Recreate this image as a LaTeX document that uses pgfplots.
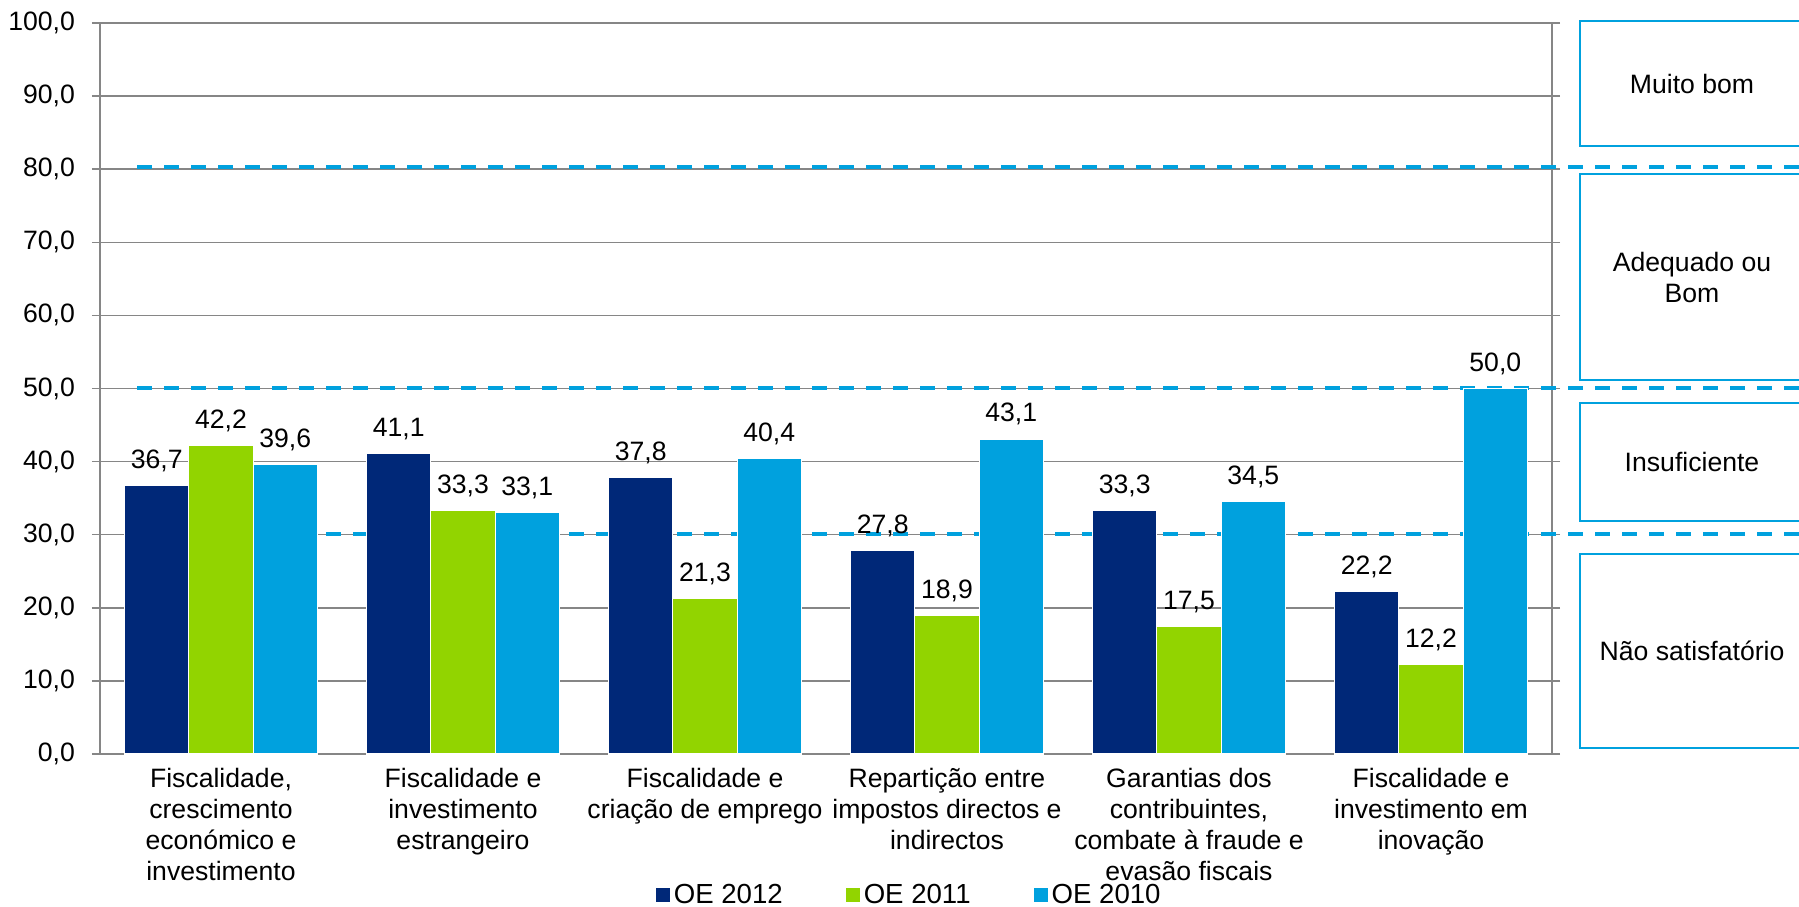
\documentclass[border=0pt]{standalone}
\usepackage{pgfplots}
\pgfplotsset{compat=1.18}
\usepackage{fontspec}
\setmainfont{Liberation Sans}
\definecolor{cdark}{RGB}{0,40,120}
\definecolor{cgreen}{RGB}{146,212,0}
\definecolor{cblue}{RGB}{0,161,222}
\definecolor{cgrid}{RGB}{134,134,134}
\newcommand{\ff}{\fontsize{13.3}{15.5}\selectfont}
\newcommand{\fl}{\fontsize{13.8}{16}\selectfont}
\begin{document}
\begin{tikzpicture}
\begin{axis}[
  at={(0,0)}, anchor=south west,
  scale only axis, width=726pt, height=365.5pt,
  xmin=-0.5, xmax=5.5, ymin=0, ymax=100,
  clip=false,
  xtick={0,1,2,3,4,5},
  xticklabels={{Fiscalidade,\\crescimento\\económico e\\investimento},
               {Fiscalidade e\\investimento\\estrangeiro},
               {Fiscalidade e\\criação de emprego},
               {Repartição entre\\impostos directos e\\indirectos},
               {Garantias dos\\contribuintes,\\combate à fraude e\\evasão fiscais},
               {Fiscalidade e\\investimento em\\inovação}},
  ytick={0,10,...,100},
  ymajorgrids, grid style={cgrid, line width=0.75pt},
  axis line style={cgrid, line width=0.75pt},
  tick align=outside, major tick length=4pt,
  ytick style={cgrid, line width=0.75pt},
  xtick style={draw=none},
  /pgf/number format/use comma,
  /pgf/number format/fixed,
  /pgf/number format/fixed zerofill,
  /pgf/number format/precision=1,
  /pgf/number format/assume math mode=true,
  yticklabel style={font=\ff, anchor=east, xshift=-5pt},
  xticklabel style={font=\ff, align=center, anchor=north, yshift=0.5pt},
  legend columns=3,
  legend style={draw=none, fill=none, font=\fl, at={(0.558,-0.1929)}, anchor=center,
    /tikz/every even column/.append style={column sep=29.5pt}},
  legend image code/.code={\fill[#1,draw=none] (0pt,-3.5pt) rectangle (7pt,3.5pt);},
  every node near coord/.append style={font=\ff, text=black, anchor=base, yshift=8.5pt},
]
\addplot[forget plot, sharp plot, cblue, line width=2pt, dash pattern=on 7.5pt off 6pt] coordinates {(-0.347,80.3) (6.6,80.3)};
\addplot[forget plot, sharp plot, cblue, line width=2pt, dash pattern=on 7.5pt off 6pt] coordinates {(-0.347,50.1) (6.6,50.1)};
\addplot[forget plot, sharp plot, cblue, line width=2pt, dash pattern=on 7.5pt off 6pt] coordinates {(-0.347,30.1) (6.6,30.1)};
\addplot[ybar, bar width=32.15pt, bar shift=-32.15pt, fill=cdark, draw=white, line width=0.6pt,
  nodes near coords, every node near coord/.append style={xshift=-32.15pt}]
  coordinates {(0,36.7) (1,41.1) (2,37.8) (3,27.8) (4,33.3) (5,22.2)};
\addlegendentry{OE 2012}
\addplot[ybar, bar width=32.15pt, bar shift=0pt, fill=cgreen, draw=white, line width=0.6pt,
  nodes near coords]
  coordinates {(0,42.2) (1,33.3) (2,21.3) (3,18.9) (4,17.5) (5,12.2)};
\addlegendentry{OE 2011}
\addplot[ybar, bar width=32.15pt, bar shift=32.15pt, fill=cblue, draw=white, line width=0.6pt,
  nodes near coords, every node near coord/.append style={xshift=32.15pt}]
  coordinates {(0,39.6) (1,33.1) (2,40.4) (3,43.1) (4,34.5) (5,50.0)};
\addlegendentry{OE 2010}
\end{axis}
\begin{scope}[cblue, line width=0.75pt]
\draw (740pt,304pt) rectangle (852pt,366.5pt);
\draw (740pt,187pt) rectangle (852pt,290pt);
\draw (740pt,116.5pt) rectangle (852pt,175.5pt);
\draw (740pt,3pt) rectangle (852pt,100pt);
\end{scope}
\node[font=\ff, align=center] at (796pt,335.25pt) {Muito bom};
\node[font=\ff, align=center] at (796pt,238.5pt) {Adequado ou\\Bom};
\node[font=\ff, align=center] at (796pt,146pt) {Insuficiente};
\node[font=\ff, align=center] at (796pt,51.5pt) {Não satisfatório};
\pgfresetboundingbox
\path[use as bounding box] (-50pt,-76pt) rectangle (849.5pt,377pt);
\end{tikzpicture}
\end{document}
